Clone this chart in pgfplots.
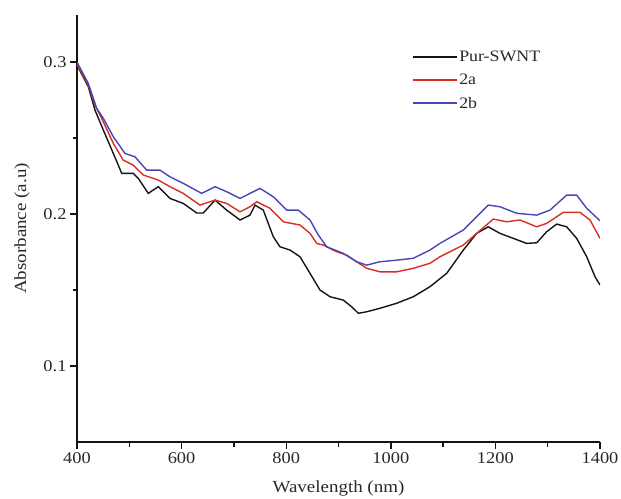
\documentclass[border=0pt]{standalone}
\usepackage{fontspec}
\setmainfont{Liberation Serif}[FakeStretch=1.12]
\usepackage{pgfplots}
\pgfplotsset{compat=1.18}
\definecolor{cblack}{RGB}{20,20,20}
\definecolor{cred}{RGB}{215,45,35}
\definecolor{cblue}{RGB}{70,70,185}
\definecolor{ctext}{RGB}{40,40,40}
\begin{document}
\begin{tikzpicture}
\begin{axis}[
  scale only axis,
  at={(0,0)}, anchor=south west,
  width=523bp, height=427bp,
  xmin=400, xmax=1400, ymin=0.05, ymax=0.331,
  axis x line=bottom, axis y line=left,
  axis line style={-, line width=1.6pt, color=cblack},
  xtick={400,600,...,1400}, ytick={0.1,0.2,0.3},
  minor xtick={500,700,...,1300}, minor ytick={0.15,0.25},
  tick align=outside,
  major tick length=7bp, minor tick length=4.5bp,
  every tick/.style={line width=1.4pt, color=cblack},
  tick label style={font=\fontsize{16.5}{18}\selectfont, text=ctext},
  /pgf/number format/assume math mode=true,
  yticklabel style={/pgf/number format/fixed, /pgf/number format/precision=1},
  xticklabel style={/pgf/number format/1000 sep={}},
  xlabel={Wavelength (nm)}, ylabel={Absorbance (a.u)},
  label style={font=\fontsize{17}{19}\selectfont, text=ctext},
  xlabel style={at={(axis description cs:0.5,-0.108)}, anchor=center},
  ylabel style={at={(axis description cs:-0.105,0.5)}, anchor=center},
  legend style={draw=none, fill=none, at={(0.6405,0.92)}, anchor=north west,
    inner sep=0pt, nodes={inner sep=1.5bp}, row sep=8bp,
    font=\fontsize{16}{18}\selectfont, text=ctext},
  legend cell align=left,
  legend image code/.code={\draw[#1, line width=1.6pt] (0bp,0bp) -- (44bp,0bp);},
]
\addplot[cblack, line width=1.4pt] coordinates {
(400,0.298) (421.6,0.2838) (434.4,0.2684) (450.3,0.2553) (469.4,0.2399) (485.5,0.2268)
(507.6,0.2268) (517.2,0.2235) (536.3,0.2136) (555.4,0.2180) (577.8,0.2103) (603.2,0.2070)
(628.9,0.2007) (641.5,0.2007) (663.9,0.2092) (686.2,0.2026) (711.7,0.1961) (730.8,0.1993)
(740.3,0.2059) (756.2,0.2026) (775.3,0.1851) (788.1,0.1785) (807.3,0.1763) (826.4,0.1719)
(845.5,0.1610) (864.6,0.1500) (883.7,0.1456) (909.2,0.1434) (925.2,0.1390) (937.9,0.1347)
(953.9,0.1357) (979.3,0.1380) (1011.3,0.1413) (1043,0.1456) (1074.9,0.1522) (1106.9,0.1610)
(1138.6,0.1763) (1164.2,0.1873) (1186.4,0.1916) (1208.8,0.1873) (1234.2,0.1840) (1259.8,0.1807)
(1279,0.1811) (1298.1,0.1884) (1317.2,0.1934) (1336.3,0.1916) (1355.4,0.1840) (1374.6,0.1719)
(1390.4,0.1588) (1400,0.1533)
};
\addlegendentry{Pur-SWNT}
\addplot[cred, line width=1.4pt] coordinates {
(400,0.2987) (421.6,0.2849) (434.4,0.2717) (450.3,0.2607) (469.4,0.2465) (488.5,0.2355)
(507.6,0.2322) (526.8,0.2257) (555.4,0.2224) (577.8,0.2180) (603.2,0.2136) (635.2,0.2059)
(663.9,0.2092) (686.2,0.2070) (711.7,0.2015) (730.8,0.2048) (743.6,0.2081) (769,0.2038)
(794.5,0.1949) (826.4,0.1928) (845.5,0.1873) (858.3,0.1807) (870.9,0.1796) (896.6,0.1752)
(915.7,0.1730) (934.8,0.1686) (953.9,0.1643) (979.3,0.1620) (1011.3,0.1620) (1043,0.1643)
(1074.9,0.1676) (1094,0.1719) (1138.6,0.1796) (1164.2,0.1873) (1196,0.1967) (1221.6,0.1949)
(1247,0.1961) (1279,0.1916) (1298.1,0.1939) (1329.8,0.2011) (1361.8,0.2011) (1380.9,0.1961)
(1400,0.1840)
};
\addlegendentry{2a}
\addplot[cblue, line width=1.4pt] coordinates {
(400,0.300) (421.6,0.2860) (437.7,0.2695) (450.3,0.2630) (469.4,0.2509) (491.8,0.2399)
(510.9,0.2377) (533.3,0.2289) (558.7,0.2289) (577.8,0.2245) (603.2,0.2202) (638.4,0.2136)
(663.9,0.2180) (686.2,0.2147) (711.7,0.2103) (730.8,0.2136) (749.9,0.2169) (775.3,0.2114)
(800.9,0.2026) (823.1,0.2026) (845.5,0.1961) (861.4,0.1862) (877.4,0.1785) (909.2,0.1741)
(934.8,0.1686) (953.9,0.1664) (979.3,0.1686) (1011.3,0.1697) (1043,0.1709) (1074.9,0.1763)
(1094,0.1807) (1138.6,0.1895) (1186.4,0.2059) (1208.8,0.2048) (1240.7,0.2005) (1279,0.1993)
(1304.4,0.2026) (1336.3,0.2125) (1355.4,0.2125) (1374.6,0.2038) (1400,0.1956)
};
\addlegendentry{2b}
\end{axis}
\pgfresetboundingbox
\path (-77bp,-57bp) rectangle (544bp,442bp);
\end{tikzpicture}
\end{document}
